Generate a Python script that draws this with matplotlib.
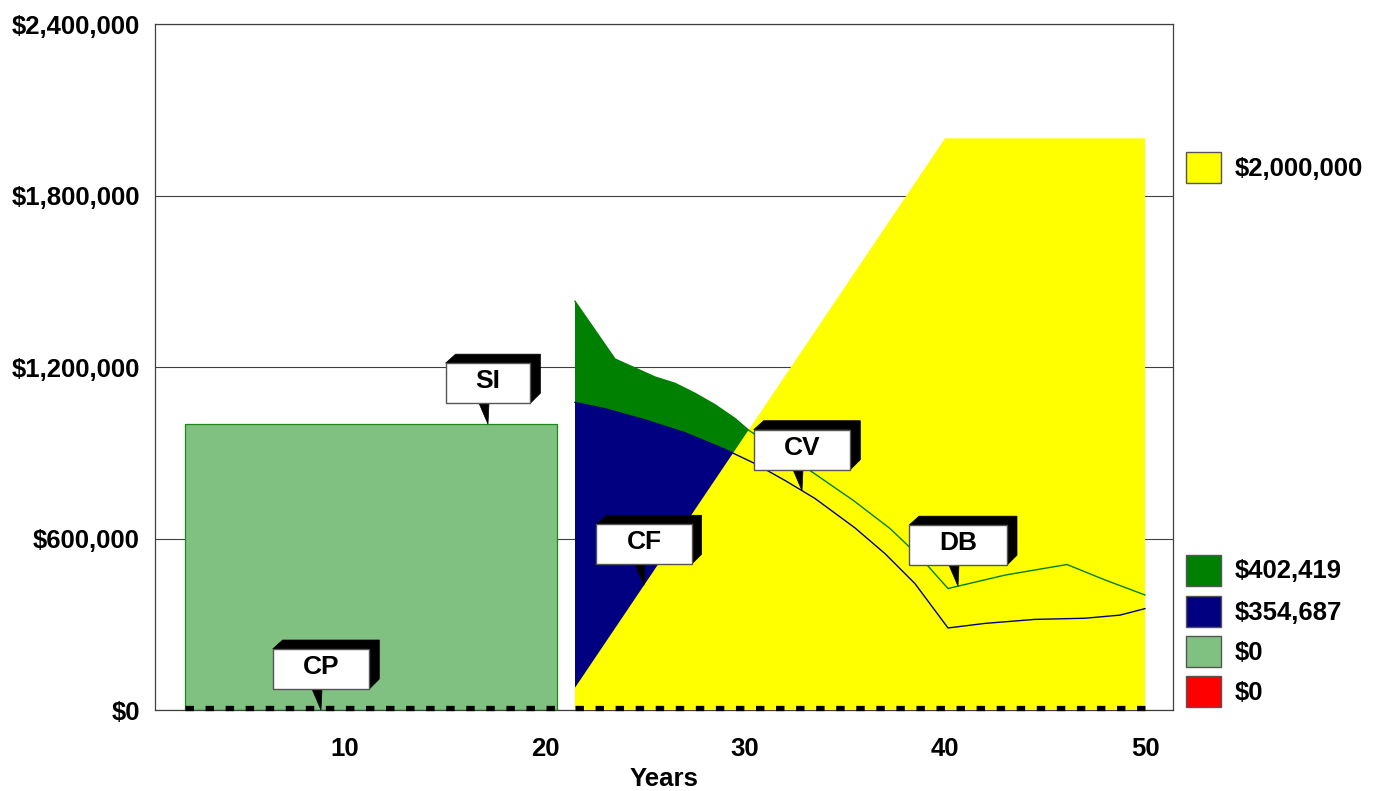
import numpy as np
import matplotlib
matplotlib.use("Agg")
import matplotlib.pyplot as plt
from matplotlib.patches import Polygon, Rectangle
from matplotlib.transforms import Affine2D, ScaledTranslation, offset_copy
from matplotlib.ticker import FuncFormatter

plt.rcParams['font.family'] = ['Liberation Sans', 'DejaVu Sans']
plt.rcParams['font.weight'] = 'bold'

# ---- data -------------------------------------------------------------
# Surrender income block (light green)
si_years = [2.0, 20.6]
si_amount = 1_000_000

# Cumulative payout (yellow) during the second phase
yellow_years = [21.5, 40.0, 50.0]
yellow_values = [78_000, 2_000_000, 2_000_000]

# Cash value (navy)
cv_years = [21.5, 23.0, 25.0, 27.0, 29.0, 30.5, 32.0, 33.5, 35.5, 37.0,
            38.5, 40.15, 42.0, 44.5, 47.0, 48.75, 50.0]
cv_values = [1_076_000, 1_054_000, 1_015_000, 970_000, 912_000, 862_000,
             803_000, 740_000, 637_000, 547_000, 442_000, 287_000, 303_000,
             317_000, 321_000, 332_000, 354_687]

# Death benefit (green)
db_years = [21.5, 23.5, 25.5, 26.5, 27.5, 28.5, 29.5, 30.2, 33.1, 35.4,
            37.25, 38.75, 40.15, 43.0, 46.1, 48.0, 50.0]
db_values = [1_430_000, 1_228_000, 1_165_000, 1_143_000, 1_108_000,
             1_068_000, 1_020_000, 978_000, 845_000, 734_000, 635_000,
             535_000, 425_000, 472_000, 509_000, 455_000, 402_419]

# Cumulative premium baseline (zero) segments
cp_segments = [[2.0, 20.6], [21.5, 50.2]]
cp_value = 0

# Callouts: label and the year they point at
callout_labels = ['SI', 'CP', 'CF', 'CV', 'DB']
callout_years = [17.15, 8.8, 24.95, 32.85, 40.65]

x_ticks = [10, 20, 30, 40, 50]
y_ticks = [0, 600_000, 1_200_000, 1_800_000, 2_400_000]

# ---- colours ----------------------------------------------------------
C_YELLOW = '#FFFF00'
C_GREEN = '#008000'
C_NAVY = '#000080'
C_LIGHT = '#80C080'
C_RED = '#FF0000'

FS = 18.5

W, H = 1385, 791
fig = plt.figure(figsize=(W / 100, H / 100), dpi=100)
ax = fig.add_axes([155 / W, 1 - 710 / H, (1173 - 155) / W, (710 - 24) / H])
ax.set_xlim(0.5, 51.4)
ax.set_ylim(0, 2_400_000)

# grid and frame
ax.set_axisbelow(True)
ax.yaxis.grid(True, color='#404040', lw=0.8)
for s in ax.spines.values():
    s.set_color('#404040')
    s.set_linewidth(0.9)

ax.set_xticks(x_ticks)
ax.set_yticks(y_ticks)
ax.yaxis.set_major_formatter(FuncFormatter(lambda v, p: f"${v:,.0f}"))
ax.tick_params(axis='both', length=0, labelsize=FS)
ax.tick_params(axis='x', pad=19.5)
ax.tick_params(axis='y', pad=11)
ax.set_xlabel('Years', fontsize=FS, fontweight='bold', labelpad=4)

# surrender income block
ax.fill_between(si_years, 0, si_amount, facecolor=C_LIGHT,
                edgecolor='#1a8a1a', lw=0.9, zorder=2)

# cash value and death benefit areas
cv_on_db = np.interp(db_years, cv_years, cv_values)
ax.fill_between(cv_years, 0, cv_values, facecolor=C_NAVY, lw=0, zorder=2)
ax.fill_between(db_years, cv_on_db, db_values, facecolor=C_GREEN, lw=0, zorder=2)

# cumulative payout area on top
ax.fill_between(yellow_years, 0, yellow_values, facecolor=C_YELLOW, lw=0, zorder=3)

# value lines
ax.plot(cv_years, cv_values, color=C_NAVY, lw=1.0, zorder=4)
ax.plot(db_years, db_values, color=C_GREEN, lw=1.0, zorder=4)

# dashed zero baseline
base_tr = offset_copy(ax.transData, fig=fig, x=0, y=2.5, units='dots')
for seg in cp_segments:
    ax.plot(seg, [cp_value, cp_value], color='black', lw=3.8,
            dashes=(1.6, 2.2), dash_capstyle='butt', transform=base_tr,
            zorder=6, clip_on=False)

# ---- callouts ---------------------------------------------------------
def anchor_value(label, year):
    if label == 'SI':
        return si_amount
    if label == 'CP':
        return cp_value
    if label == 'CF':
        return float(np.interp(year, yellow_years, yellow_values))
    if label == 'CV':
        return float(np.interp(year, cv_years, cv_values))
    return float(np.interp(year, db_years, db_values))

renderer = fig.canvas.get_renderer()
for label, year in zip(callout_labels, callout_years):
    val = anchor_value(label, year)
    tr = Affine2D() + ScaledTranslation(year, val, ax.transData)
    y0, hgt, d = 21, 40, 10
    y1 = y0 + hgt
    t = ax.text(0, (y0 + y1) / 2 + 2, label, transform=tr, ha='center',
                va='center', fontsize=19, fontweight='bold', zorder=10,
                clip_on=False)
    tw = t.get_window_extent(renderer=renderer).width
    w = tw + 60
    x0, x1 = -w / 2, w / 2
    shade = Polygon([(x0, y1), (x0 + d, y1 + d - 1), (x1 + d, y1 + d - 1),
                     (x1 + d, y0 + d), (x1, y0), (x1, y1)],
                    closed=True, facecolor='black', edgecolor='black', lw=0.5,
                    transform=tr, zorder=8, clip_on=False)
    box = Rectangle((x0, y0), w, hgt, facecolor='white', edgecolor='#555555',
                    lw=1.0, transform=tr, zorder=9, clip_on=False)
    pointer = Polygon([(-9, y0), (1, y0), (0, 0)], closed=True,
                      facecolor='black', edgecolor='black', lw=0.5,
                      transform=tr, zorder=8, clip_on=False)
    for p in (shade, pointer, box):
        ax.add_patch(p)

# ---- legend (final values) --------------------------------------------
legend_colors = [C_YELLOW, C_GREEN, C_NAVY, C_LIGHT, C_RED]
legend_values = [yellow_values[-1], db_values[-1], cv_values[-1], 0, cp_value]
legend_tops = [152, 555, 596, 636, 676]

for col, val, top in zip(legend_colors, legend_values, legend_tops):
    fig.add_artist(Rectangle((1186 / W, 1 - (top + 31) / H), 35 / W, 31 / H,
                             facecolor=col, edgecolor='#555555', lw=1.0,
                             transform=fig.transFigure))
    fig.text(1235 / W, 1 - (top + 15.5 + 8) / H, f"${val:,.0f}",
             fontsize=FS, fontweight='bold', ha='left', va='baseline')

fig.savefig('out.png', dpi=100)
